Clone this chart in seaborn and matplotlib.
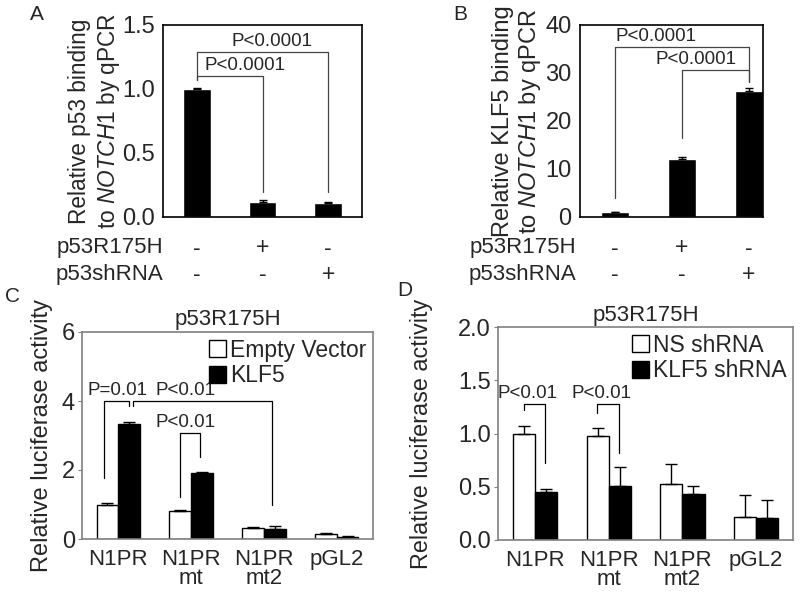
import numpy as np
import pandas as pd
import matplotlib
matplotlib.use("Agg")
import matplotlib.pyplot as plt
import matplotlib.transforms as mtransforms
import seaborn as sns

# ==========================
# Data
# ==========================

conditions_ab = ["ctrl", "p53R175H", "p53shRNA"]
r175h_signs = ["-", "+", "-"]
shrna_signs = ["-", "-", "+"]

p53_binding = [1.0, 0.12, 0.11]
p53_binding_err = [0.01, 0.01, 0.01]

klf5_binding = [1.0, 12.0, 26.2]
klf5_binding_err = [0.1, 0.5, 0.6]

constructs = ["N1PR", "N1PR\nmt", "N1PR\nmt2", "pGL2"]

c_groups = ["Empty Vector", "KLF5"]
c_empty = [1.0, 0.82, 0.32, 0.14]
c_empty_err = [0.03, 0.02, 0.04, 0.03]
c_klf5 = [3.33, 1.91, 0.28, 0.05]
c_klf5_err = [0.06, 0.03, 0.10, 0.03]

d_groups = ["NS shRNA", "KLF5 shRNA"]
d_ns = [1.0, 0.98, 0.53, 0.22]
d_ns_err = [0.07, 0.07, 0.18, 0.20]
d_klf5 = [0.45, 0.51, 0.43, 0.21]
d_klf5_err = [0.03, 0.18, 0.08, 0.17]

# significance brackets: (x1, x2, y, drop left, drop right, text, text x)
brackets_a = [(0, 2, 1.29, 1.07, 0.195, "P<0.0001", 1.15),
              (0, 1, 1.10, 1.07, 0.195, "P<0.0001", 0.74)]
brackets_b = [(0, 2, 35.4, 4.0, 28.1, "P<0.0001", 0.61),
              (1, 2, 30.6, 16.5, 28.1, "P<0.0001", 1.21)]
brackets_c = [(-0.2, 0.14, 4.0, 1.77, 3.86, "P=0.01", -0.01),
              (0.2, 2.11, 4.0, 3.86, 0.99, "P<0.01", 0.92),
              (0.85, 1.12, 3.07, 1.22, 2.38, "P<0.01", 0.92)]
brackets_d = [(-0.15, 0.14, 1.28, 1.22, 0.72, "P<0.01", -0.1),
              (0.84, 1.14, 1.28, 1.19, 0.82, "P<0.01", 0.9)]

# ==========================
# Style
# ==========================

sns.set_style("ticks")
plt.rcParams["font.family"] = ["Liberation Sans", "DejaVu Sans"]
plt.rcParams["mathtext.fontset"] = "custom"
plt.rcParams["mathtext.rm"] = "Liberation Sans"
plt.rcParams["mathtext.it"] = "Liberation Sans:italic"

fig = plt.figure(figsize=(8, 5.94), dpi=100)


def px_axes(x0, x1, y0, y1):
    return fig.add_axes([x0 / 800, (594 - y1) / 594, (x1 - x0) / 800, (y1 - y0) / 594])


def draw_brackets(ax, brackets, color, fs, gap):
    for x1, x2, y, yl, yr, txt, tx in brackets:
        ax.plot([x1, x1, x2, x2], [yl, y, y, yr], color=color, lw=0.9, clip_on=False)
        ax.text(tx, y + gap, txt, ha="center", va="bottom", fontsize=fs)


# ==========================
# Panels A and B
# ==========================

def simple_panel(ax, values, errs, ylim, yticks, ylabel, brackets, gap, xlim, lab_fs):
    df = pd.DataFrame({"cond": conditions_ab, "val": values})
    sns.barplot(data=df, x="cond", y="val", color="black", width=0.42,
                errorbar=None, ax=ax, saturation=1)
    ax.errorbar(range(len(values)), values, yerr=[np.zeros(len(errs)), errs],
                fmt="none", ecolor="black", elinewidth=1, capsize=3)
    ax.set_ylim(*ylim)
    ax.set_xlim(*xlim)
    ax.set_yticks(yticks)
    ax.set_xticks([])
    ax.set_xlabel("")
    ax.set_ylabel(ylabel, fontsize=lab_fs, linespacing=1.2)
    ax.tick_params(axis="y", length=0, labelsize=17, pad=6)
    for s in ax.spines.values():
        s.set_visible(True)
        s.set_color("black")
        s.set_linewidth(1.2)
    draw_brackets(ax, brackets, "#444444", 13.5, (ylim[1] - ylim[0]) * gap)

    tr = mtransforms.blended_transform_factory(ax.transData, fig.transFigure)
    for i in range(len(values)):
        ax.text(i, (594 - 248) / 594, r175h_signs[i], transform=tr,
                ha="center", va="center", fontsize=16.5)
        ax.text(i, (594 - 275) / 594, shrna_signs[i], transform=tr,
                ha="center", va="center", fontsize=16.5)


ax_a = px_axes(163, 362, 25, 217)
simple_panel(ax_a, p53_binding, p53_binding_err, (0, 1.5), [0, 0.5, 1.0, 1.5],
             "Relative p53 binding\nto $\\mathit{NOTCH1}$ by qPCR", brackets_a, 0.012,
             (-0.515, 2.515), 16.3)
ax_a.set_yticklabels(["0.0", "0.5", "1.0", "1.5"])
ax_a.yaxis.set_label_coords(-0.205, 0.5)

ax_b = px_axes(580, 763, 25, 217)
simple_panel(ax_b, klf5_binding, klf5_binding_err, (0, 40), [0, 10, 20, 30, 40],
             "Relative KLF5 binding\nto $\\mathit{NOTCH1}$ by qPCR", brackets_b, 0.012,
             (-0.52, 2.21), 17)
ax_b.yaxis.set_label_coords(-0.2, 0.5)

for ax, xr in [(ax_a, 163), (ax_b, 576)]:
    fig.text(xr / 800, (594 - 248) / 594, "p53R175H", ha="right", va="center", fontsize=16)
    fig.text(xr / 800, (594 - 275) / 594, "p53shRNA", ha="right", va="center", fontsize=16)

# ==========================
# Panels C and D
# ==========================

def grouped_panel(ax, groups, v1, e1, v2, e2, ylim, yticks, ytl, brackets, title_pad, lab_fs):
    df = pd.DataFrame({
        "construct": constructs * 2,
        "group": [groups[0]] * 4 + [groups[1]] * 4,
        "val": v1 + v2,
    })
    sns.barplot(data=df, x="construct", y="val", hue="group", hue_order=groups,
                palette=["white", "black"], edgecolor="black", linewidth=1,
                width=0.6, errorbar=None, saturation=1, ax=ax)
    x = np.arange(4)
    ax.errorbar(x - 0.15, v1, yerr=[np.zeros(4), e1], fmt="none", ecolor="black",
                elinewidth=1, capsize=4)
    ax.errorbar(x + 0.15, v2, yerr=[np.zeros(4), e2], fmt="none", ecolor="black",
                elinewidth=1, capsize=4)
    ax.set_ylim(*ylim)
    ax.set_xlim(-0.5, 3.5)
    ax.set_yticks(yticks)
    ax.set_yticklabels(ytl)
    ax.set_xlabel("")
    ax.set_ylabel("Relative luciferase activity", fontsize=lab_fs)
    ax.set_title("p53R175H", fontsize=16, pad=title_pad)
    ax.tick_params(axis="y", length=3, color="#808080", labelsize=17, pad=2)
    ax.tick_params(axis="x", length=0, labelsize=16, pad=7.5)
    for lbl in ax.get_xticklabels():
        lbl.set_linespacing(0.88)
    for s in ax.spines.values():
        s.set_visible(True)
        s.set_color("#808080")
        s.set_linewidth(1.2)
    draw_brackets(ax, brackets, "black", 13.5, (ylim[1] - ylim[0]) * 0.01)
    ax.legend(loc="upper right", frameon=False, fontsize=16.5, handlelength=0.75,
              handleheight=0.75, handletextpad=0.15, labelspacing=0.1,
              borderaxespad=0.1, borderpad=0.2)


ax_c = px_axes(82, 373, 332, 539)
grouped_panel(ax_c, c_groups, c_empty, c_empty_err, c_klf5, c_klf5_err,
              (0, 6), [0, 2, 4, 6], ["0", "2", "4", "6"], brackets_c, 5, 17)
ax_c.yaxis.set_label_coords(-0.1, 0.5)

ax_d = px_axes(498, 793, 327, 540)
grouped_panel(ax_d, d_groups, d_ns, d_ns_err, d_klf5, d_klf5_err,
              (0, 2.0), [0, 0.5, 1.0, 1.5, 2.0], ["0.0", "0.5", "1.0", "1.5", "2.0"],
              brackets_d, 4, 16.8)
ax_d.yaxis.set_label_coords(-0.22, 0.5)

# ==========================
# Panel letters
# ==========================

for letter, px, py in [("A", 37, 15), ("B", 460, 15), ("C", 12, 296), ("D", 405, 290)]:
    fig.text(px / 800, (594 - py) / 594, letter, ha="center", va="center", fontsize=15)

plt.savefig("out.png", dpi=100)
